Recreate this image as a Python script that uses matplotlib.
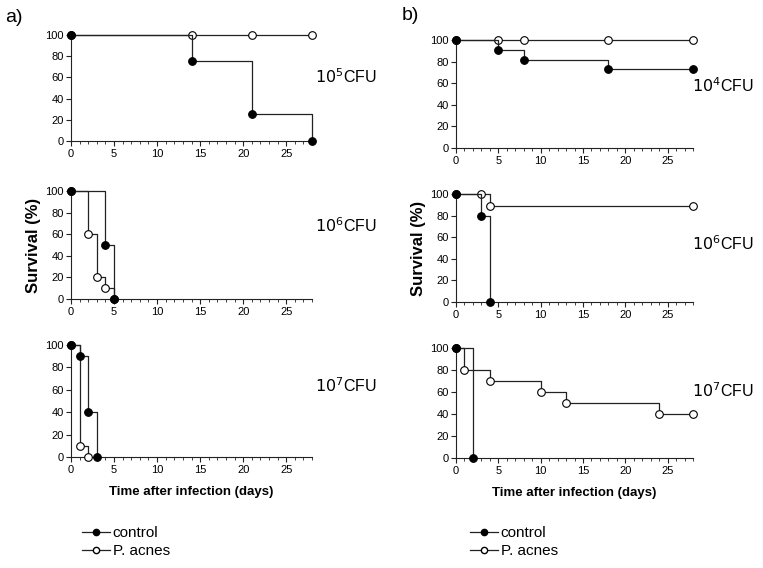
import matplotlib
matplotlib.use("Agg")
import matplotlib.pyplot as plt
from matplotlib.lines import Line2D
import numpy as np

plt.rcParams['font.family'] = ['Liberation Sans', 'DejaVu Sans']

# ---- Data (days, survival %) ----
# Panel a) 10^5 CFU
a5_ctrl_t = [0, 14, 21, 28]
a5_ctrl_s = [100, 75, 25, 0]
a5_pa_t = [0, 14, 21, 28]
a5_pa_s = [100, 100, 100, 100]
# Panel a) 10^6 CFU
a6_ctrl_t = [0, 4, 5]
a6_ctrl_s = [100, 50, 0]
a6_pa_t = [0, 2, 3, 4, 5]
a6_pa_s = [100, 60, 20, 10, 0]
# Panel a) 10^7 CFU
a7_ctrl_t = [0, 1, 2, 3]
a7_ctrl_s = [100, 90, 40, 0]
a7_pa_t = [0, 1, 2]
a7_pa_s = [100, 10, 0]
# Panel b) 10^4 CFU
b4_ctrl_t = [0, 5, 8, 18, 28]
b4_ctrl_s = [100, 90.9, 81.8, 72.7, 72.7]
b4_pa_t = [0, 5, 8, 18, 28]
b4_pa_s = [100, 100, 100, 100, 100]
# Panel b) 10^6 CFU
b6_ctrl_t = [0, 3, 4]
b6_ctrl_s = [100, 80, 0]
b6_pa_t = [0, 3, 4, 28]
b6_pa_s = [100, 100, 88.9, 88.9]
# Panel b) 10^7 CFU
b7_ctrl_t = [0, 2]
b7_ctrl_s = [100, 0]
b7_pa_t = [0, 1, 4, 10, 13, 24, 28]
b7_pa_s = [100, 80, 70, 60, 50, 40, 40]

x_ticks = [0, 5, 10, 15, 20, 25]
y_ticks = [0, 20, 40, 60, 80, 100]
series_labels = ["control", "P. acnes"]
dose_labels_a = ["$10^5$CFU", "$10^6$CFU", "$10^7$CFU"]
dose_labels_b = ["$10^4$CFU", "$10^6$CFU", "$10^7$CFU"]

W, H = 763, 568
fig = plt.figure(figsize=(W / 100, H / 100), dpi=100)

def box(x0, y0, x1, y1):
    return [x0 / W, 1 - y1 / H, (x1 - x0) / W, (y1 - y0) / H]

LC = '#222222'

def km(ax, t, s, filled, z):
    ax.step(t, s, where='post', color=LC, lw=0.9, zorder=z, clip_on=False)
    ax.plot(t, s, ls='none', marker='o', ms=5.5, mec='black', mew=0.8,
            mfc='black' if filled else 'white', zorder=z + 1, clip_on=False)

def style(ax):
    ax.set_xlim(0, 28)
    ax.set_ylim(0, 100)
    for sp in ['top', 'right']:
        ax.spines[sp].set_visible(False)
    for sp in ['left', 'bottom']:
        ax.spines[sp].set_color(LC)
        ax.spines[sp].set_linewidth(0.8)
    ax.set_xticks(x_ticks)
    ax.set_xticks(np.arange(0, 29, 1), minor=True)
    ax.set_yticks(y_ticks)
    ax.tick_params(axis='both', which='major', labelsize=8, length=3.5,
                   width=0.8, color=LC, pad=1.5)
    ax.tick_params(axis='x', which='minor', length=2, width=0.6, color=LC)
    ax.tick_params(axis='x', pad=2)

panels = [
    (box(71, 35, 312, 141), a5_ctrl_t, a5_ctrl_s, a5_pa_t, a5_pa_s, dose_labels_a[0], (315, 77)),
    (box(71, 191, 312, 299), a6_ctrl_t, a6_ctrl_s, a6_pa_t, a6_pa_s, dose_labels_a[1], (315, 226)),
    (box(71, 345, 312, 457), a7_ctrl_t, a7_ctrl_s, a7_pa_t, a7_pa_s, dose_labels_a[2], (315, 386)),
    (box(456, 40, 693, 148), b4_ctrl_t, b4_ctrl_s, b4_pa_t, b4_pa_s, dose_labels_b[0], (692, 86)),
    (box(456, 194, 693, 302), b6_ctrl_t, b6_ctrl_s, b6_pa_t, b6_pa_s, dose_labels_b[1], (692, 244)),
    (box(456, 348, 693, 458), b7_ctrl_t, b7_ctrl_s, b7_pa_t, b7_pa_s, dose_labels_b[2], (692, 391)),
]

axes = []
for rect, ct, cs, pt, ps, lab, (lx, ly) in panels:
    ax = fig.add_axes(rect)
    km(ax, pt, ps, False, 3)
    km(ax, ct, cs, True, 5)
    style(ax)
    fig.text(lx / W, 1 - ly / H, lab, fontsize=11.5, ha='left', va='center')
    axes.append(ax)

for i in [1, 4]:
    axes[i].set_ylabel("Survival (%)", fontsize=12, fontweight='bold', labelpad=3)
for i in [2, 5]:
    axes[i].set_xlabel("Time after infection (days)", fontsize=9.5,
                       fontweight='bold', labelpad=8)

fig.text(5 / W, 1 - 17 / H, "a)", fontsize=14, ha='left', va='center')
fig.text(402 / W, 1 - 15 / H, "b)", fontsize=14, ha='left', va='center')

handles = [
    Line2D([], [], color=LC, lw=0.9, marker='o', ms=4.5, mfc='black', mec='black'),
    Line2D([], [], color=LC, lw=0.9, marker='o', ms=4.5, mfc='white', mec='black'),
]
for (lx, ly) in [(82, 542), (470, 542)]:
    fig.legend(handles, series_labels, loc='center left',
               bbox_to_anchor=(lx / W, 1 - ly / H), frameon=False,
               fontsize=11, handlelength=1.8, handletextpad=0.2,
               labelspacing=0.25, borderpad=0, borderaxespad=0)

fig.savefig("out.png", dpi=100)
